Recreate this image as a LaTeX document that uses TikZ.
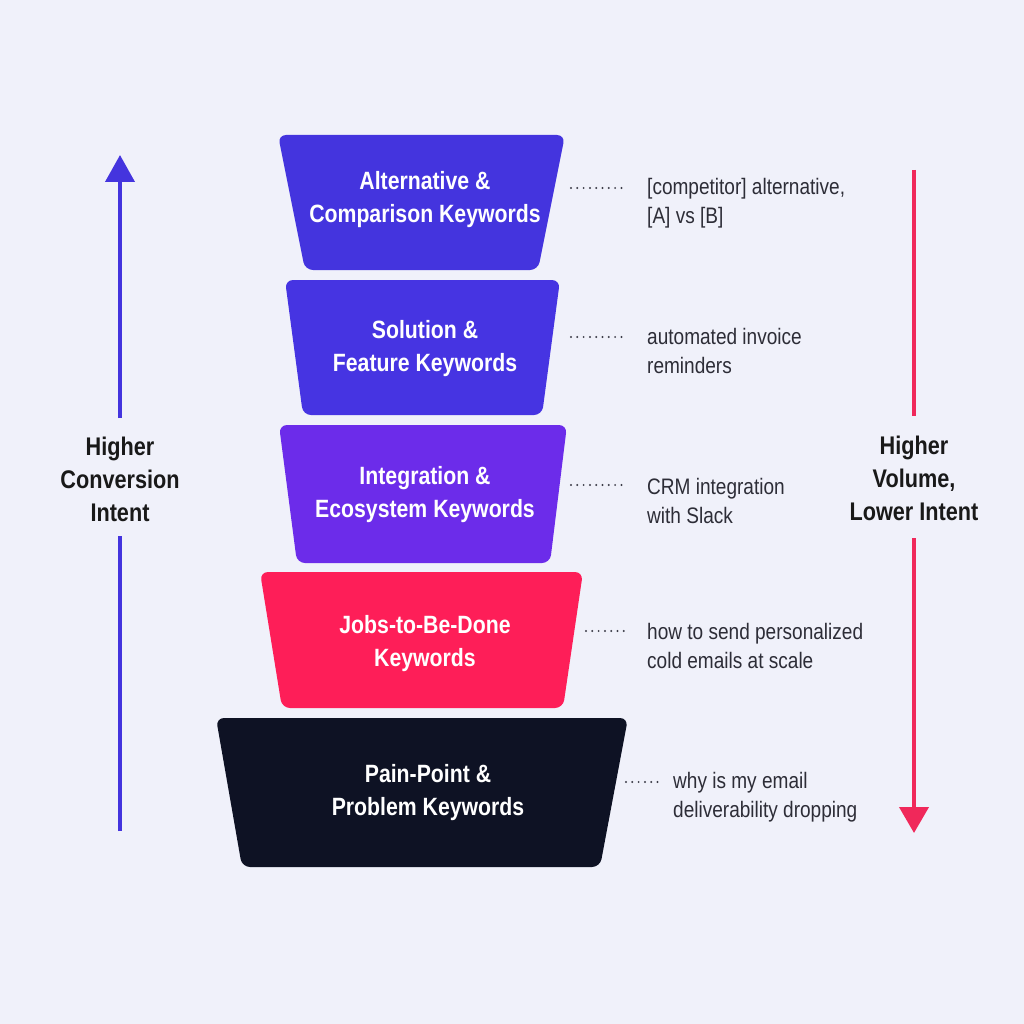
\documentclass[tikz,border=0pt]{standalone}
\usepackage{fontspec}
\setmainfont{Liberation Sans}
\newfontfamily\condsans{Liberation Sans}[FakeStretch=0.85]
\usetikzlibrary{arrows.meta,calc}
\definecolor{bgc}{RGB}{240,241,250}
\definecolor{cA}{RGB}{68,52,222}
\definecolor{cB}{RGB}{70,52,226}
\definecolor{cC}{RGB}{108,44,234}
\definecolor{cD}{RGB}{254,30,88}
\definecolor{cE}{RGB}{14,18,36}
\definecolor{upc}{RGB}{68,52,222}
\definecolor{downc}{RGB}{240,40,90}
\definecolor{desctxt}{RGB}{45,45,55}
\definecolor{dotc}{RGB}{60,60,72}
\tikzset{
  layer/.style={rounded corners=8pt},
  boxtext/.style={text=white, align=center, font=\condsans\bfseries\fontsize{25}{33}\selectfont},
  desc/.style={text=desctxt, align=left, anchor=west, inner sep=0pt, font=\condsans\fontsize{22.4}{28.5}\selectfont},
  sidelabel/.style={text=black!90, align=center, font=\condsans\bfseries\fontsize{25.5}{33}\selectfont},
  leader/.style={draw=dotc, line width=2.2pt, line cap=round, dash pattern=on 0pt off 6.3pt},
  axisline/.style={line width=4pt},
}
\begin{document}
\begin{tikzpicture}[x=1pt,y=-1pt]
\fill[bgc] (0,0) rectangle (1024,1024);
\useasboundingbox (0,0) rectangle (1024,1024);

% layers
\fill[cA,layer] (278,135) -- (565,135) -- (538,270) -- (305,270) -- cycle;
\fill[cB,layer] (285,280) -- (560,280) -- (542,415) -- (303,415) -- cycle;
\fill[cC,layer] (279,425) -- (567,425) -- (550,563) -- (297,563) -- cycle;
\fill[cD,layer] (260,572) -- (583,572) -- (563,708) -- (282,708) -- cycle;
\fill[cE,layer] (216,718) -- (628,718) -- (600,867) -- (242,867) -- cycle;

\node[boxtext] (l1) at (425,200) {Alternative \&\\Comparison Keywords};
\node[boxtext] (l2) at (425,349) {Solution \&\\Feature Keywords};
\node[boxtext] (l3) at (425,495) {Integration \&\\Ecosystem Keywords};
\node[boxtext] (l4) at (425,644) {Jobs-to-Be-Done\\Keywords};
\node[boxtext] (l5) at (428,793) {Pain-Point \&\\Problem Keywords};

% descriptions
\node[desc] (d1) at (647,203) {[competitor] alternative,\\{[A]} vs [B]};
\node[desc] (d2) at (647,351) {automated invoice\\reminders};
\node[desc] (d3) at (647,501) {CRM integration\\with Slack};
\node[desc] (d4) at (647,646) {how to send personalized\\cold emails at scale};
\node[desc] (d5) at (673,797) {why is my email\\deliverability dropping};

\coordinate (s1) at (571,188);
\coordinate (s2) at (571,337);
\coordinate (s3) at (571,485);
\coordinate (s4) at (586,631);
\coordinate (s5) at (626,782);
\draw[leader] (s1) -- ($(s1 -| d1.west)+(-20,0)$);
\draw[leader] (s2) -- ($(s2 -| d2.west)+(-20,0)$);
\draw[leader] (s3) -- ($(s3 -| d3.west)+(-20,0)$);
\draw[leader] (s4) -- ($(s4 -| d4.west)+(-20,0)$);
\draw[leader] (s5) -- ($(s5 -| d5.west)+(-10,0)$);

% left axis
\node[sidelabel] (lab) at (120,479) {Higher\\Conversion\\Intent};
\coordinate (lbot) at (120,831);
\coordinate (ltop) at (120,155);
\draw[axisline, upc] (lbot) -- (120,536);
\draw[axisline, upc, -{Triangle[width=29pt,length=27pt]}] (120,418) -- (ltop);

% right axis
\node[sidelabel] (rab) at (914,478) {Higher\\Volume,\\Lower Intent};
\coordinate (rtop) at (914,170);
\coordinate (rbot) at (914,833);
\draw[axisline, downc] (rtop) -- (914,416);
\draw[axisline, downc, -{Triangle[width=29pt,length=26pt]}] (914,538) -- (rbot);
\end{tikzpicture}
\end{document}
